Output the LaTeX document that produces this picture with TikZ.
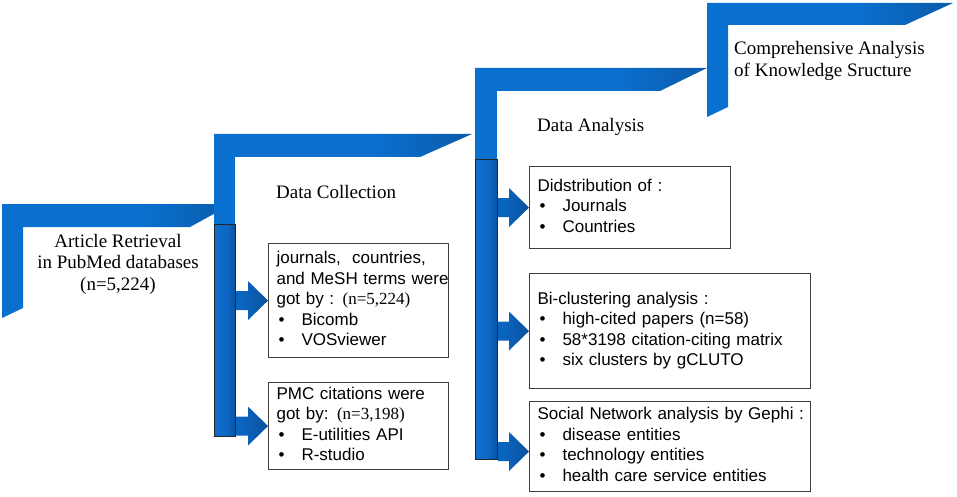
\documentclass[tikz,border=0pt]{standalone}
\usepackage{fontspec}
\setmainfont{Liberation Serif}
\setsansfont{Liberation Sans}
\usetikzlibrary{calc}
\definecolor{mblue}{RGB}{10,112,208}
\definecolor{mdark}{RGB}{12,66,122}
\definecolor{cylL}{RGB}{22,120,212}
\definecolor{cylM}{RGB}{12,102,196}
\definecolor{cylR}{RGB}{10,58,112}
\definecolor{arrL}{RGB}{12,110,204}
\definecolor{arrM}{RGB}{10,96,184}
\definecolor{arrR}{RGB}{12,68,128}
\definecolor{boxline}{RGB}{64,64,64}
\pgfdeclarehorizontalshading{barshade}{100bp}{color(0bp)=(mblue); color(55bp)=(mblue); color(100bp)=(mdark)}
\pgfdeclarehorizontalshading{cylshade}{100bp}{color(0bp)=(cylL); color(55bp)=(cylM); color(100bp)=(cylR)}
\pgfdeclarehorizontalshading{arrshade}{100bp}{color(0bp)=(arrL); color(45bp)=(arrM); color(100bp)=(arrR)}
\newcommand{\bul}[1]{\hspace*{2pt}\makebox[23pt][l]{\textbullet}#1}
\newcommand{\flowarrow}[2]{%
  \path[blockarrow] let \p1=(#1.east), \p2=(#2) in
    (\x1,\y2+9.5pt) -- (\x2-20pt,\y2+9.5pt) -- (\x2-20pt,\y2+19.5pt) -- (\x2,\y2)
    -- (\x2-20pt,\y2-19.5pt) -- (\x2-20pt,\y2-9.5pt) -- (\x1,\y2-9.5pt) -- cycle;}
\begin{document}
\begin{tikzpicture}[x=1pt,y=-1pt,
  bar/.style={shading=barshade, draw=none},
  cyl/.style={draw=black!85, line width=0.8pt, shading=cylshade, minimum width=21pt, inner sep=0pt, anchor=north west},
  infobox/.style={draw=boxline, line width=1.1pt, fill=white, anchor=north west, align=left, inner xsep=8pt, inner ysep=0pt, font=\sffamily\fontsize{17}{20.5}\selectfont},
  blockarrow/.style={shading=arrshade, draw=none},
  stage/.style={font=\fontsize{19}{21.5}\selectfont, inner sep=0pt}
]
\useasboundingbox (0,0) rectangle (957,497);
% stage 1
\fill[mblue] (2,226) -- (23,226) -- (23,308) -- (2,318) -- cycle;
\path[bar] (2,204) -- (232,204) -- (190,227) -- (2,227) -- cycle;
% stage 2
\fill[mblue] (214,156) rectangle (235,226);
\path[bar] (214,134) -- (472,134) -- (420,157) -- (214,157) -- cycle;
\node[cyl, minimum height=212pt] (cylA) at (214,224) {};
% stage 3
\fill[mblue] (475,90) rectangle (497,161);
\path[bar] (475,68) -- (707,68) -- (660,91) -- (475,91) -- cycle;
\node[cyl, minimum width=22pt, minimum height=300pt] (cylB) at (475,159) {};
% stage 4
\fill[mblue] (707,24) -- (728,24) -- (728,107) -- (707,117) -- cycle;
\path[bar] (707,3) -- (953,3) -- (905,25) -- (707,25) -- cycle;
% labels
\node[stage, anchor=base] (lblA) at (118,247) {\begin{tabular}[t]{@{}c@{}}Article Retrieval\\in PubMed databases\\(n=5,224)\end{tabular}};
\node[stage, anchor=base west] (lblB) at (276,198) {Data Collection};
\node[stage, anchor=base west] (lblC) at (537,132) {Data Analysis};
\node[stage, anchor=base west] (lblD) at (734,55) {\begin{tabular}[t]{@{}l@{}}Comprehensive Analysis\\of Knowledge Sructure\end{tabular}};
% boxes
\node[infobox, text width=164pt, minimum height=114pt] (boxA1) at (268,243) {\begin{tabular}{@{}l@{}}journals,\ \ countries,\\and MeSH terms were\\got by : {\rmfamily (n=5,224)}\\\bul{Bicomb}\\\bul{VOSviewer}\end{tabular}};
\node[infobox, text width=164pt, minimum height=87pt] (boxA2) at (268,382) {\begin{tabular}{@{}l@{}}PMC citations were\\got by: {\rmfamily (n=3,198)}\\\bul{E-utilities API}\\\bul{R-studio}\end{tabular}};
\node[infobox, text width=185pt, minimum height=82pt] (boxB1) at (529,166) {\begin{tabular}{@{}l@{}}Didstribution of :\\\bul{Journals}\\\bul{Countries}\end{tabular}};
\node[infobox, text width=265pt, minimum height=115pt] (boxB2) at (529,273) {\begin{tabular}{@{}l@{}}Bi-clustering analysis :\\\bul{high-cited papers (n=58)}\\\bul{58*3198 citation-citing matrix}\\\bul{six clusters by gCLUTO}\end{tabular}};
\node[infobox, text width=265pt, minimum height=90pt] (boxB3) at (529,401) {\begin{tabular}{@{}l@{}}Social Network analysis by Gephi :\\\bul{disease entities}\\\bul{technology entities}\\\bul{health care service entities}\end{tabular}};
% arrows
\flowarrow{cylA}{boxA1.west}
\flowarrow{cylA}{boxA2.west}
\flowarrow{cylB}{boxB1.west}
\flowarrow{cylB}{boxB2.west}
\flowarrow{cylB}{$(boxB3.west)+(0,5)$}
\end{tikzpicture}
\end{document}
